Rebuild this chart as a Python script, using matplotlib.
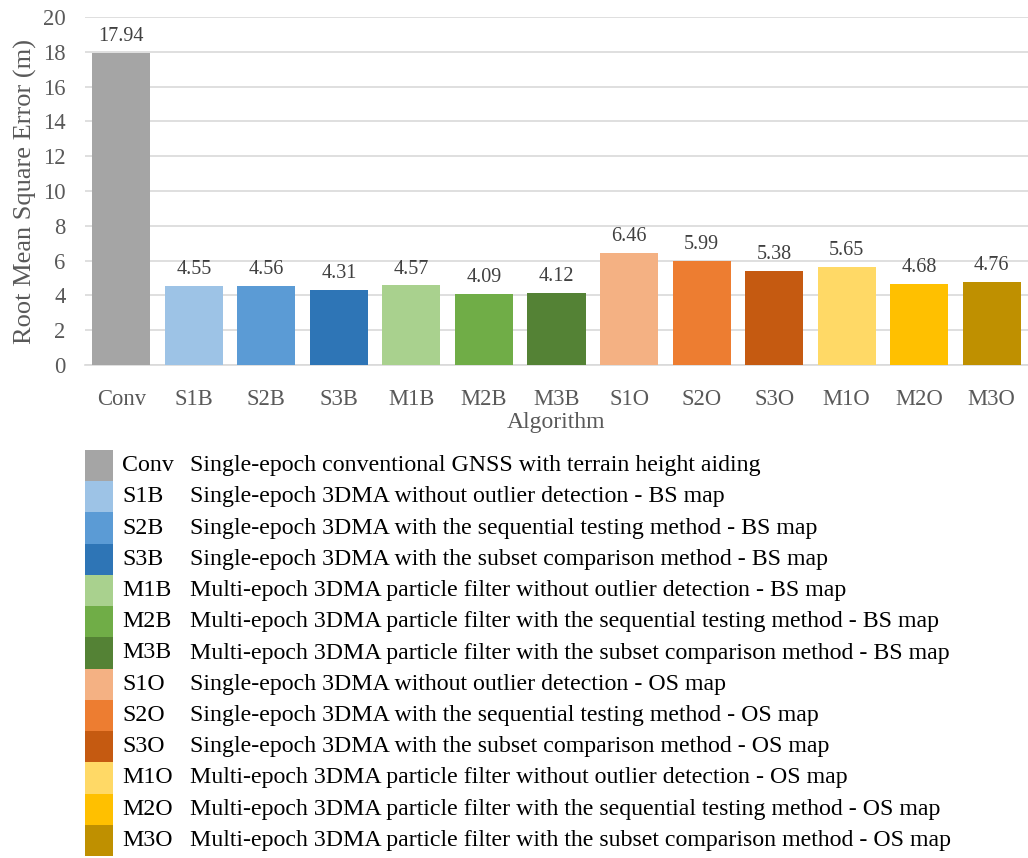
import matplotlib
matplotlib.use("Agg")
import matplotlib.pyplot as plt
from matplotlib.patches import Rectangle

plt.rcParams['font.family'] = ['Liberation Serif', 'DejaVu Serif']

categories = ["Conv", "S1B", "S2B", "S3B", "M1B", "M2B", "M3B",
              "S1O", "S2O", "S3O", "M1O", "M2O", "M3O"]
values = [17.94, 4.55, 4.56, 4.31, 4.57, 4.09, 4.12,
          6.46, 5.99, 5.38, 5.65, 4.68, 4.76]
colors = ["#A5A5A5", "#9DC3E6", "#5B9BD5", "#2E75B6", "#A9D18E", "#70AD47", "#548235",
          "#F4B183", "#ED7D31", "#C55A11", "#FFD966", "#FFC000", "#BF9000"]
descriptions = [
    "Single-epoch conventional GNSS with terrain height aiding",
    "Single-epoch 3DMA without outlier detection - BS map",
    "Single-epoch 3DMA with the sequential testing method - BS map",
    "Single-epoch 3DMA with the subset comparison method - BS map",
    "Multi-epoch 3DMA particle filter without outlier detection - BS map",
    "Multi-epoch 3DMA particle filter with the sequential testing method - BS map",
    "Multi-epoch 3DMA particle filter with the subset comparison method - BS map",
    "Single-epoch 3DMA without outlier detection - OS map",
    "Single-epoch 3DMA with the sequential testing method - OS map",
    "Single-epoch 3DMA with the subset comparison method - OS map",
    "Multi-epoch 3DMA particle filter without outlier detection - OS map",
    "Multi-epoch 3DMA particle filter with the sequential testing method - OS map",
    "Multi-epoch 3DMA particle filter with the subset comparison method - OS map",
]
yticks = [0, 2, 4, 6, 8, 10, 12, 14, 16, 18, 20]

W, H = 1028, 858
fig = plt.figure(figsize=(W / 100, H / 100), dpi=100)
gray = "#595959"

ax = fig.add_axes([85 / W, 1 - 365 / H, 943 / W, (365 - 17) / H])
x = list(range(len(categories)))
ax.bar(x, values, width=0.8, color=colors, zorder=3)
ax.set_xlim(-0.5, len(categories) - 0.5)
ax.set_ylim(0, 20)
ax.set_yticks(yticks)
ax.yaxis.grid(True, color="#D9D9D9", linewidth=1.2, zorder=0)
for s in ["top", "right", "left"]:
    ax.spines[s].set_visible(False)
ax.spines["bottom"].set_color("#D9D9D9")
ax.spines["bottom"].set_linewidth(1.2)
ax.tick_params(axis="both", length=0, colors=gray, labelsize=16.3)
ax.tick_params(axis="x", pad=17)
ax.tick_params(axis="y", pad=14)
ax.set_xticks(x)
ax.set_xticklabels(categories)
ax.set_ylabel("Root Mean Square Error (m)", color=gray, fontsize=19, labelpad=4)
ax.set_xlabel("Algorithm", color=gray, fontsize=17, labelpad=2)
for xi, v in zip(x, values):
    ax.annotate(f"{v:.2f}", (xi, v), xytext=(0, 5), textcoords="offset points",
                ha="center", va="bottom", color="#404040", fontsize=14.5)

# legend table
lax = fig.add_axes([0, 0, 1, 1])
lax.set_xlim(0, W)
lax.set_ylim(H, 0)
lax.axis("off")
top = 450.0
row_h = (856.0 - top) / len(categories)
for i, (c, col, d) in enumerate(zip(categories, colors, descriptions)):
    y0 = top + i * row_h
    lax.add_patch(Rectangle((85, y0), 28, row_h, facecolor=col, edgecolor="none"))
    lax.text(122, y0 + row_h / 2, c, ha="left", va="center", fontsize=17.2, color="black")
    lax.text(190, y0 + row_h / 2, d, ha="left", va="center", fontsize=17.2, color="black")

fig.savefig("out.png", dpi=100)
